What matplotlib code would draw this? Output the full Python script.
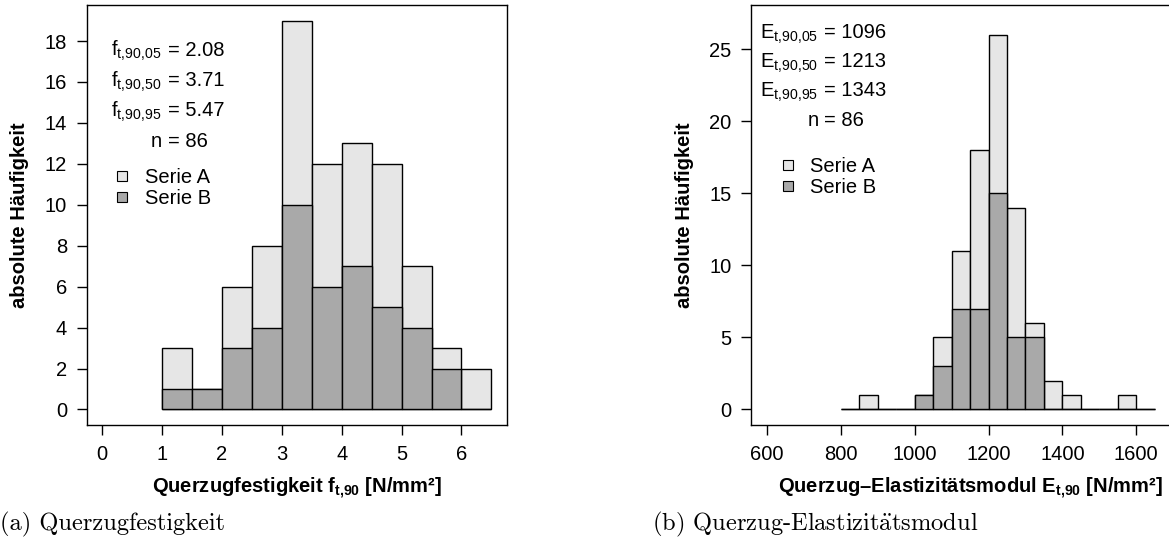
import matplotlib
matplotlib.use('Agg')
import matplotlib.pyplot as plt
from matplotlib.lines import Line2D

plt.rcParams['font.family'] = ['Liberation Sans', 'DejaVu Sans']
plt.rcParams['mathtext.fontset'] = 'custom'
plt.rcParams['mathtext.rm'] = 'Liberation Sans'
plt.rcParams['mathtext.it'] = 'Liberation Sans:italic'
plt.rcParams['mathtext.bf'] = 'Liberation Sans:bold'

# --- data: (a) Querzugfestigkeit, bins of 0.5 N/mm2
ft_edges = [1.0, 1.5, 2.0, 2.5, 3.0, 3.5, 4.0, 4.5, 5.0, 5.5, 6.0]
ft_total = [3, 1, 6, 8, 19, 12, 13, 12, 7, 3, 2]
ft_serie_b = [1, 1, 3, 4, 10, 6, 7, 5, 4, 2, 0]
ft_stats = [('f', '05', '2.08'), ('f', '50', '3.71'), ('f', '95', '5.47')]

# --- data: (b) Querzug-Elastizitaetsmodul, bins of 50 N/mm2
et_edges = [800, 850, 900, 950, 1000, 1050, 1100, 1150, 1200, 1250,
            1300, 1350, 1400, 1450, 1500, 1550, 1600]
et_total = [0, 1, 0, 0, 1, 5, 11, 18, 26, 14, 6, 2, 1, 0, 0, 1, 0]
et_serie_b = [0, 0, 0, 0, 1, 3, 7, 7, 15, 5, 5, 0, 0, 0, 0, 0, 0]
et_stats = [('E', '05', '1096'), ('E', '50', '1213'), ('E', '95', '1343')]
n_samples = 86

light = '#e6e6e6'
dark = '#a9a9a9'
fs = 14.5

W, H = 1169, 544
fig = plt.figure(figsize=(W / 100, H / 100), dpi=100)


def box(l, t, r, b):
    return [l / W, 1 - b / H, (r - l) / W, (b - t) / H]


def setup(ax, xlim, ylim, xticks, yticks, width_px):
    ax.set_xlim(xlim)
    ax.set_ylim(ylim)
    ax.set_xticks(xticks)
    ax.set_yticks(yticks)
    ax.tick_params(direction='out', length=7.2, width=1, labelsize=fs, pad=7)
    for s in ax.spines.values():
        s.set_linewidth(1.0)
    ax.set_ylabel('absolute Häufigkeit', fontsize=fs, fontweight='bold', va='center')
    ax.yaxis.set_label_coords(-67.0 / width_px, 0.5)


def stats_text(x_eq, baselines, stats):
    # left part right-aligned before the "=", value part left-aligned after it
    for (sym, q, val), yb in zip(stats, baselines[:3]):
        fig.text((x_eq - 6) / W, 1 - yb / H,
                 r'$\mathrm{%s}_{\mathrm{t{,}90{,}%s}}$' % (sym, q),
                 ha='right', va='baseline', fontsize=fs)
        fig.text(x_eq / W, 1 - yb / H, '= ' + val, ha='left', va='baseline', fontsize=fs)
    fig.text((x_eq - 6) / W, 1 - baselines[3] / H, 'n', ha='right', va='baseline', fontsize=fs)
    fig.text(x_eq / W, 1 - baselines[3] / H, '= %d' % n_samples, ha='left',
             va='baseline', fontsize=fs)


def legend(ax, x_px, y_px):
    handles = [Line2D([], [], marker='s', ls='none', ms=7, mfc=light, mec='black', mew=0.8),
               Line2D([], [], marker='s', ls='none', ms=7, mfc=dark, mec='black', mew=0.8)]
    ax.legend(handles, ['Serie A', 'Serie B'], loc='center left',
              bbox_to_anchor=(x_px / W, 1 - y_px / H), bbox_transform=fig.transFigure,
              frameon=False, borderpad=0, borderaxespad=0, handlelength=0.75,
              handletextpad=0.75, labelspacing=0.1, fontsize=fs)


# ---------------- (a)
ax1 = fig.add_axes(box(86.7, 5, 507, 425))
ax1.bar(ft_edges, ft_total, width=0.5, align='edge', color=light, edgecolor='black', linewidth=1)
ax1.bar(ft_edges, ft_serie_b, width=0.5, align='edge', color=dark, edgecolor='black', linewidth=1)
setup(ax1, (-0.26, 6.76), (-0.76, 19.76), range(0, 7), range(0, 19, 2), 420.3)
ax1.set_xlabel(r'Querzugfestigkeit $\mathbf{f}_{\mathbf{t{,}90}}$ [N/mm²]', fontsize=fs,
               fontweight='bold')
ax1.xaxis.label.set_va('baseline')
ax1.xaxis.set_label_coords(0.5, -(493 - 425) / 420)
stats_text(167.5, [56, 86.3, 116.3, 147], ft_stats)
legend(ax1, 114.5, 188)

# ---------------- (b)
ax2 = fig.add_axes(box(751, 5, 1189.3, 425))
ax2.bar(et_edges, et_total, width=50, align='edge', color=light, edgecolor='black', linewidth=1)
ax2.bar(et_edges, et_serie_b, width=50, align='edge', color=dark, edgecolor='black', linewidth=1)
setup(ax2, (556, 1744), (-1.08, 28.08), range(600, 1601, 200), range(0, 26, 5), 438.3)
ax2.set_xlabel(r'Querzug–Elastizitätsmodul $\mathbf{E}_{\mathbf{t{,}90}}$ [N/mm²]', fontsize=fs,
               fontweight='bold')
ax2.xaxis.label.set_va('baseline')
ax2.xaxis.set_label_coords(0.5, -(493 - 425) / 420)
stats_text(824.5, [38.3, 67.3, 96.3, 126.5], et_stats)
legend(ax2, 780, 177)

# sub captions (LaTeX look)
fig.text(0, 1 - 530 / H, '(a) Querzugfestigkeit', family='cmr10', fontsize=17.6,
         ha='left', va='baseline')
fig.text(652 / W, 1 - 530 / H, r'(b) Querzug-Elastizit$\mathrm{\ddot{a}}$tsmodul',
         family='cmr10', math_fontfamily='cm', fontsize=17.6, ha='left', va='baseline')

fig.savefig('out.png', dpi=100)
